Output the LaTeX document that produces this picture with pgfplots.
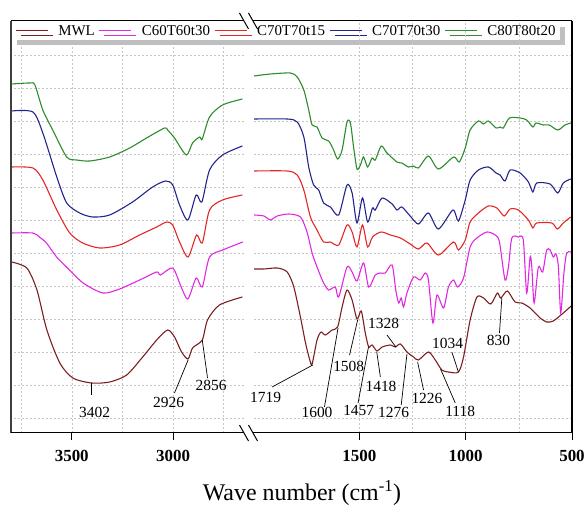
\documentclass[border=0pt]{standalone}
\usepackage{fontspec}
\setmainfont{Liberation Serif}
\usepackage{pgfplots}
\pgfplotsset{compat=1.18}
\usetikzlibrary{shadows}

\definecolor{cMWL}{RGB}{125,30,30}
\definecolor{cC60}{RGB}{225,40,225}
\definecolor{cC70a}{RGB}{228,38,38}
\definecolor{cC70b}{RGB}{35,35,140}
\definecolor{cC80}{RGB}{45,140,45}

\tikzset{lbl/.style={font=\fontsize{15.5}{18}\selectfont, inner sep=0pt}}
\pgfplotsset{
  panel/.style={
    scale only axis, height=412bp,
    ymin=18, ymax=430, x dir=reverse, clip=false,
    ytick={33,66,...,396}, yticklabels={}, ytick style={draw=none},
    ymajorgrids, xmajorgrids, xminorgrids,
    grid style={gray!45, dash pattern=on 2bp off 2bp, line width=0.5bp},
    minor grid style={gray!45, dash pattern=on 2bp off 2bp, line width=0.5bp},
    axis line style={draw=none},
    xtick pos=left, tick align=outside,
    major tick length=7bp, minor tick length=0pt,
    xtick style={black, line width=0.8bp},
    /pgf/number format/assume math mode=true,
    /pgf/number format/1000 sep={},
    xticklabel style={font=\fontsize{17}{20}\selectfont\bfseries, yshift=-7bp},
    every axis plot/.append style={line width=1.1bp, smooth, tension=0.45},
  },
}

\begin{document}
\begin{tikzpicture}
\useasboundingbox (0,0) rectangle (585bp,506bp);

% left panel: 3800 - 2650
\begin{axis}[panel, at={(11bp,73bp)}, anchor=south west, width=233bp,
    xmin=2650, xmax=3800, xtick={3000,3500}, minor xtick={2750,3250,3750},
    legend columns=-1,
    legend style={at={(0.0043,0.9976)}, anchor=north west, draw=none, fill=white,
      font=\fontsize{15}{18}\selectfont,
      /tikz/every odd column/.append style={column sep=8bp},
      /tikz/every even column/.append style={column sep=2bp},
      inner xsep=3bp, inner ysep=1bp,
      drop shadow={shadow xshift=5bp, shadow yshift=-5bp, fill=black!25, opacity=1}},
    legend image code/.code={\draw[#1, line width=1.1bp] (0bp,0bp) -- (32bp,0bp);},
  ]
\addplot[cMWL] coordinates {(3797,189) (3722,183) (3672,161) (3623,121) (3559,88) (3495,73) (3402,68) (3313,69) (3229,76) (3150,94) (3081,111) (3027,121) (2993,114) (2958,99) (2926,92) (2904,103) (2856,111) (2830,131) (2771,146) (2658,154)};
\addplot[cC60] coordinates {(3797,218) (3692,218) (3660,214) (3625,208) (3575,194) (3526,184) (3444,168) (3346,158) (3264,162) (3165,171) (3081,179) (3062,176) (3002,183) (2960,164) (2927,152) (2886,173) (2856,164) (2820,194) (2755,201) (2656,209)};
\addplot[cC70a] coordinates {(3797,284) (3692,283) (3643,271) (3574,241) (3510,218) (3446,208) (3362,203) (3264,206) (3165,216) (3081,224) (3032,229) (3002,226) (2968,209) (2926,194) (2884,216) (2856,208) (2820,241) (2756,251) (2658,256)};
\addplot[cC70b] coordinates {(3797,340) (3692,339) (3643,318) (3574,274) (3525,248) (3461,238) (3397,234) (3313,236) (3200,249) (3101,264) (3037,270) (3002,266) (2968,246) (2927,231) (2886,256) (2858,249) (2820,281) (2756,296) (2658,305)};
\addplot[cC80] coordinates {(3797,367) (3707,368) (3682,366) (3643,341) (3594,321) (3525,294) (3475,291) (3411,290) (3313,294) (3214,303) (3131,313) (3042,323) (3027,321) (2993,313) (2935,296) (2904,308) (2869,314) (2856,312) (2820,334) (2756,346) (2658,352)};
\legend{MWL,C60T60t30,C70T70t15,C70T70t30,C80T80t20}

\draw[line width=0.7bp] (axis cs:3402,68) -- (axis cs:3402,56);
\node[lbl] at (axis cs:3387,39) {3402};
\draw[line width=0.7bp] (axis cs:2926,91) -- (axis cs:2993,58);
\node[lbl] at (axis cs:3022,49) {2926};
\draw[line width=0.7bp] (axis cs:2856,111) -- (axis cs:2830,73);
\node[lbl] at (axis cs:2812,66) {2856};
\end{axis}

% right panel: 2000 - 500
\begin{axis}[panel, at={(253bp,73bp)}, anchor=south west, width=319bp,
    xmin=500, xmax=2000, xtick={500,1000,1500}, minor xtick={750,1250},
  ]
\addplot[cMWL] coordinates {(1995,182) (1949,182) (1886,183) (1839,179) (1808,164) (1777,134) (1753,108) (1733,91) (1722,87) (1699,111) (1680,119) (1660,116) (1628,121) (1602,124) (1581,144) (1558,161) (1534,151) (1511,132) (1491,140) (1472,118) (1456,104) (1440,106) (1417,100) (1393,104) (1354,106) (1331,104) (1307,107) (1276,99) (1245,94) (1222,91) (1175,99) (1143,91) (1112,81) (1081,79) (1034,79) (1010,94) (979,131) (947,154) (916,153) (882,147) (851,158) (835,153) (804,160) (768,149) (736,148) (697,143) (650,133) (619,129) (588,130) (541,138) (509,144) (500,146)};
\addplot[cC60] coordinates {(1995,236) (1949,235) (1918,231) (1886,235) (1832,237) (1777,234) (1746,219) (1722,198) (1699,184) (1668,168) (1644,161) (1613,164) (1597,154) (1558,184) (1534,179) (1511,170) (1480,188) (1456,164) (1425,176) (1401,178) (1378,178) (1346,186) (1328,160) (1315,148) (1303,153) (1292,144) (1276,158) (1245,174) (1214,171) (1190,178) (1175,171) (1154,128) (1135,156) (1104,143) (1081,164) (1057,171) (1038,164) (1010,173) (979,204) (947,213) (900,219) (861,216) (841,209) (815,171) (799,184) (783,213) (752,214) (729,211) (713,158) (697,194) (689,184) (678,148) (658,184) (638,179) (619,201) (603,201) (588,194) (575,197) (564,184) (553,138) (538,178) (525,198) (506,199)};
\addplot[cC70a] coordinates {(1995,280) (1839,280) (1792,276) (1761,261) (1730,234) (1699,221) (1668,209) (1636,209) (1597,206) (1558,226) (1534,219) (1511,204) (1485,226) (1461,204) (1438,214) (1398,219) (1354,216) (1307,213) (1261,207) (1222,202) (1182,208) (1128,196) (1057,209) (1034,201) (1002,211) (979,229) (940,238) (893,245) (853,243) (819,235) (791,242) (752,241) (705,231) (684,223) (666,228) (595,228) (569,222) (541,228) (506,234)};
\addplot[cC70b] coordinates {(1995,332) (1839,332) (1792,329) (1761,314) (1738,284) (1715,266) (1691,261) (1668,248) (1636,244) (1597,236) (1558,266) (1534,258) (1511,228) (1485,253) (1461,229) (1438,243) (1425,241) (1393,253) (1346,247) (1323,241) (1300,244) (1261,235) (1222,227) (1175,238) (1128,222) (1060,241) (1034,230) (1002,251) (979,271) (940,281) (893,284) (857,278) (838,276) (815,270) (791,281) (744,278) (705,269) (684,259) (666,268) (603,267) (567,258) (541,268) (506,272)};
\addplot[cC80] coordinates {(1995,375) (1918,377) (1824,378) (1792,374) (1761,361) (1738,341) (1722,326) (1699,324) (1675,313) (1644,310) (1621,301) (1602,292) (1581,301) (1558,329) (1542,328) (1527,304) (1511,282) (1495,286) (1480,294) (1461,284) (1440,293) (1425,291) (1397,305) (1370,298) (1323,289) (1300,288) (1269,284) (1245,285) (1222,283) (1175,295) (1128,282) (1057,294) (1030,289) (1002,303) (979,321) (940,330) (916,327) (893,330) (857,323) (838,324) (823,323) (794,333) (744,333) (713,331) (684,324) (669,328) (635,326) (607,326) (567,321) (533,326) (506,328)};

\draw[line width=0.7bp] (axis cs:1719,86) -- (axis cs:1910,64);
\node[lbl] at (axis cs:1941,54) {1719};
\draw[line width=0.7bp] (axis cs:1600,123) -- (axis cs:1664,44);
\node[lbl] at (axis cs:1699,39) {1600};
\draw[line width=0.7bp] (axis cs:1508,131) -- (axis cs:1546,96);
\node[lbl] at (axis cs:1550,85) {1508};
\draw[line width=0.7bp] (axis cs:1457,104) -- (axis cs:1506,48);
\node[lbl] at (axis cs:1503,41) {1457};
\draw[line width=0.7bp] (axis cs:1418,99) -- (axis cs:1401,74);
\node[lbl] at (axis cs:1398,65) {1418};
\draw[line width=0.7bp] (axis cs:1328,104) -- (axis cs:1370,116);
\node[lbl] at (axis cs:1386,128) {1328};
\draw[line width=0.7bp] (axis cs:1276,97) -- (axis cs:1303,46);
\node[lbl] at (axis cs:1339,39) {1276};
\draw[line width=0.7bp] (axis cs:1226,89) -- (axis cs:1198,61);
\node[lbl] at (axis cs:1182,53) {1226};
\draw[line width=0.7bp] (axis cs:1118,82) -- (axis cs:1049,48);
\node[lbl] at (axis cs:1026,40) {1118};
\draw[line width=0.7bp] (axis cs:1034,79) -- (axis cs:1065,99);
\node[lbl] at (axis cs:1085,108) {1034};
\draw[line width=0.7bp] (axis cs:830,153) -- (axis cs:841,118);
\node[lbl] at (axis cs:846,111) {830};
\end{axis}

% frame with axis break
\draw[line width=1.8bp, black!75] (11bp,73bp) -- (11bp,485bp);
\draw[line width=1.8bp] (572bp,73bp) -- (572bp,485bp);
\draw[line width=1bp] (11bp,73bp) -- (244bp,73bp) (253bp,73bp) -- (572bp,73bp);
\draw[line width=1bp] (11bp,485bp) -- (244bp,485bp) (253bp,485bp) -- (572bp,485bp);
\foreach \yy in {73,485} {
  \draw[line width=1bp] (239.5bp,\yy bp+8bp) -- (248.5bp,\yy bp-8bp);
  \draw[line width=1bp] (248.5bp,\yy bp+8bp) -- (257.5bp,\yy bp-8bp);
}
\node[font=\fontsize{24}{28}\selectfont, anchor=base] at (302bp,6bp) {Wave number (cm\textsuperscript{-1})};
\end{tikzpicture}
\end{document}
